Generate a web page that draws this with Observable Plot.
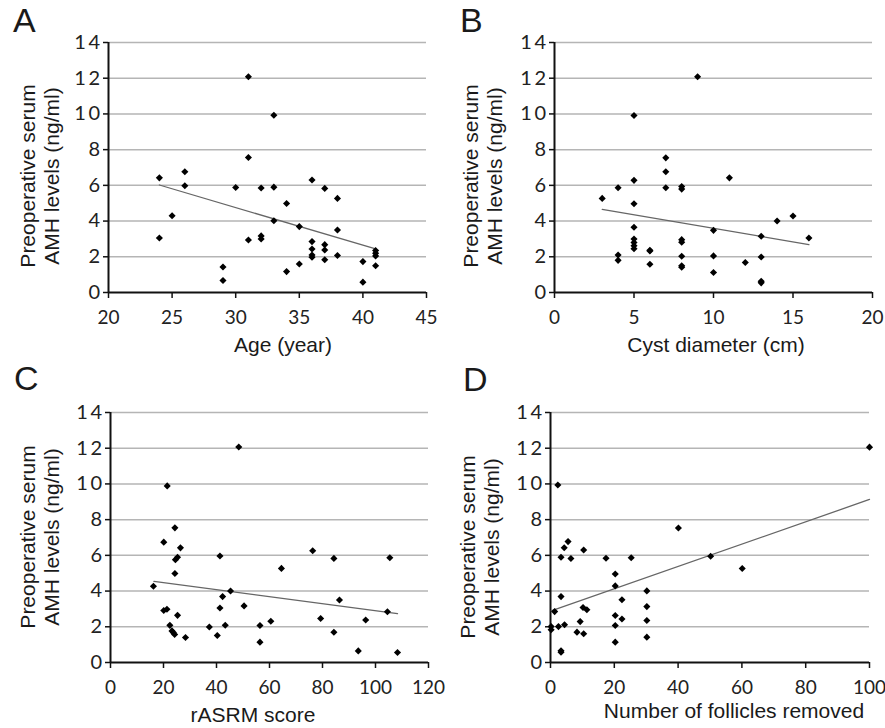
<!DOCTYPE html>
<html>
<head>
<meta charset="utf-8">
<script src="https://cdn.jsdelivr.net/npm/d3@7"></script>
<script src="https://cdn.jsdelivr.net/npm/@observablehq/plot@0.6"></script>
<style>
  html, body { margin: 0; padding: 0; background: #fff; }
  #root { position: relative; width: 885px; height: 728px; overflow: hidden; background: #fff; }
  .panel { position: absolute; }
  .lbl { position: absolute; font-family: "Liberation Sans", Arial, sans-serif; color: #1a1a1a; line-height: 1; white-space: nowrap; }
  .letter { font-size: 34px; }
  .xt { font-size: 21px; transform: translateX(-50%); }
  .yt { font-size: 21px; line-height: 24px; text-align: center; transform: translate(-50%, -50%) rotate(-90deg); }
</style>
</head>
<body>
<div id="root"></div>
<script>
// ---------- data ----------
const yTicks = [0, 2, 4, 6, 8, 10, 12, 14];

// Panel A: Age (year) vs AMH
const ageA = [24, 24, 25, 26, 26, 29, 29, 30, 31, 31, 31, 32, 32, 32, 33, 33, 33, 34, 34, 35, 35,
              36, 36, 36, 36, 36, 37, 37, 37, 37, 38, 38, 38, 40, 40, 41, 41, 41, 41];
const amhA = [6.42, 3.05, 4.3, 6.76, 5.98, 1.43, 0.67, 5.88, 12.08, 7.56, 2.94, 5.85, 3.17, 3.0, 9.93, 5.9, 4.02, 4.98, 1.17, 3.69, 1.6,
              6.3, 2.85, 2.44, 2.1, 1.98, 5.83, 2.68, 2.38, 1.83, 5.27, 3.5, 2.07, 1.73, 0.58, 2.35, 2.2, 2.05, 1.5];
const xTicksA = [20, 25, 30, 35, 40, 45];
const trendAx = [24, 41];
const trendAy = [6.02, 2.44];

// Panel B: Cyst diameter (cm) vs AMH
const cystB = [3, 4, 4, 4, 5, 5, 5, 5, 5, 5, 5, 5, 6, 6, 6, 7, 7, 7, 8, 8, 8, 8, 8, 8, 8,
               9, 10, 10, 10, 11, 12, 13, 13, 13, 13, 14, 15, 16];
const amhB = [5.27, 5.87, 2.1, 1.8, 9.91, 6.28, 4.97, 3.65, 3.0, 2.8, 2.62, 2.45, 2.36, 2.32, 1.58, 7.54, 6.76, 5.87, 5.94, 5.79, 2.96, 2.81, 2.03, 1.5, 1.42,
              12.08, 3.48, 2.05, 1.12, 6.42, 1.68, 3.15, 1.99, 0.63, 0.54, 4.0, 4.28, 3.05];
const xTicksB = [0, 5, 10, 15, 20];
const trendBx = [3, 16];
const trendBy = [4.66, 2.68];

// Panel C: rASRM score vs AMH
const asrmC = [16.2, 20.1, 21.4, 20.1, 21.3, 22.4, 23.2, 23.7, 24.2, 24.3, 24.5, 25.3, 24.3, 26.4, 25.3, 28.3, 37.3, 40.3, 41.3, 41.3,
               42.3, 43.3, 45.3, 48.4, 50.4, 56.4, 56.4, 60.5, 64.5, 76.3, 79.3, 84.3, 84.3, 86.4, 93.5, 96.3, 104.5, 105.4, 108.3];
const amhC = [4.27, 6.74, 9.89, 2.91, 2.98, 2.08, 1.77, 1.68, 1.57, 7.54, 5.76, 5.89, 4.98, 6.42, 2.64, 1.4, 1.99, 1.51, 5.96, 3.05,
              3.69, 2.09, 4.0, 12.07, 3.17, 2.07, 1.14, 2.31, 5.27, 6.26, 2.46, 5.83, 1.69, 3.5, 0.65, 2.38, 2.84, 5.87, 0.56];
const xTicksC = [0, 20, 40, 60, 80, 100, 120];
const trendCx = [16.4, 108.3];
const trendCy = [4.54, 2.74];

// Panel D: Number of follicles removed vs AMH
const follD = [0.2, 0.2, 1.3, 2.3, 2.5, 3.3, 3.3, 3.3, 3.3, 4.3, 4.4, 5.5, 6.4, 8.3, 9.3, 10.2, 10.4, 10.4, 11.4, 17.4,
               20.3, 20.3, 20.3, 20.3, 20.3, 22.4, 22.4, 25.3, 30.2, 30.2, 30.2, 30.2, 40.1, 50.2, 60.1, 100];
const amhD = [2.01, 1.83, 2.85, 9.94, 2.01, 5.89, 3.69, 0.66, 0.58, 6.43, 2.11, 6.77, 5.82, 1.70, 2.29, 3.08, 6.3, 1.61, 2.95, 5.84,
              4.96, 4.29, 2.63, 2.07, 1.14, 3.51, 2.44, 5.87, 4.01, 3.13, 2.35, 1.42, 7.53, 5.95, 5.26, 12.06];
const xTicksD = [0, 20, 40, 60, 80, 100];
const trendDx = [0.2, 100];
const trendDy = [2.89, 9.13];

const yTitle = "Preoperative serum\nAMH levels (ng/ml)";

// ---------- layout ----------
const panels = [
  {letter: "A", xs: ageA, ys: amhA, xTicks: xTicksA, tx: trendAx, ty: trendAy, xTitle: "Age (year)",
   left: 0, top: 0, width: 440, height: 330, mt: 42, mb: 38, ml: 108, mr: 14,
   letterPos: [13, 3], xTitlePos: [283, 334], yTitlePos: [40, 176]},
  {letter: "B", xs: cystB, ys: amhB, xTicks: xTicksB, tx: trendBx, ty: trendBy, xTitle: "Cyst diameter (cm)",
   left: 440, top: 0, width: 445, height: 330, mt: 42, mb: 38, ml: 114, mr: 13,
   letterPos: [460, 3], xTitlePos: [716, 334], yTitlePos: [483, 176]},
  {letter: "C", xs: asrmC, ys: amhC, xTicks: xTicksC, tx: trendCx, ty: trendCy, xTitle: "rASRM score",
   left: 0, top: 330, width: 440, height: 398, mt: 82, mb: 66, ml: 110, mr: 12,
   letterPos: [14, 361], xTitlePos: [253, 704], yTitlePos: [40, 537]},
  {letter: "D", xs: follD, ys: amhD, xTicks: xTicksD, tx: trendDx, ty: trendDy, xTitle: "Number of follicles removed",
   left: 440, top: 330, width: 445, height: 398, mt: 82, mb: 66, ml: 110, mr: 16,
   letterPos: [463, 362], xTitlePos: [734, 700], yTitlePos: [480, 547]}
];

const root = document.getElementById("root");

for (const p of panels) {
  const pts = p.xs.map((x, i) => ({x, y: p.ys[i]}));
  const trend = p.tx.map((x, i) => ({x, y: p.ty[i]}));
  const xDomain = [p.xTicks[0], p.xTicks[p.xTicks.length - 1]];
  const chart = Plot.plot({
    width: p.width,
    height: p.height,
    marginTop: p.mt,
    marginBottom: p.mb,
    marginLeft: p.ml,
    marginRight: p.mr,
    style: {fontFamily: "Lato, sans-serif", fontSize: "19px", color: "#222", background: "transparent", overflow: "visible"},
    x: {domain: xDomain},
    y: {domain: [0, 14]},
    marks: [
      Plot.gridY(yTicks.filter(v => v > 0), {stroke: "#b5b5b5", strokeOpacity: 1, strokeWidth: 1.5}),
      Plot.axisY(yTicks, {tickSize: 5, tickPadding: 1, label: null, fontSize: 20, stroke: "#111", strokeWidth: 1.5}),
      Plot.axisX(p.xTicks, {tickSize: 6, tickPadding: 12, label: null, stroke: "#111", strokeWidth: 1.5}),
      Plot.ruleY([0], {stroke: "#111", strokeWidth: 2}),
      Plot.ruleX([xDomain[0]], {stroke: "#111", strokeWidth: 2}),
      Plot.line(trend, {x: "x", y: "y", stroke: "#666", strokeWidth: 1.3}),
      Plot.dot(pts, {x: "x", y: "y", symbol: "diamond2", r: 3.2, fill: "#000", stroke: "none"})
    ]
  });
  d3.select(chart).selectAll('g[aria-label="y-axis tick label"]').style("letter-spacing", "2.5px");
  const wrap = document.createElement("div");
  wrap.className = "panel";
  wrap.style.left = p.left + "px";
  wrap.style.top = p.top + "px";
  wrap.appendChild(chart);
  root.appendChild(wrap);

  const L = document.createElement("div");
  L.className = "lbl letter";
  L.textContent = p.letter;
  L.style.left = p.letterPos[0] + "px";
  L.style.top = p.letterPos[1] + "px";
  root.appendChild(L);

  const xt = document.createElement("div");
  xt.className = "lbl xt";
  xt.textContent = p.xTitle;
  xt.style.left = p.xTitlePos[0] + "px";
  xt.style.top = p.xTitlePos[1] + "px";
  root.appendChild(xt);

  const yt = document.createElement("div");
  yt.className = "lbl yt";
  yt.style.whiteSpace = "pre";
  yt.textContent = yTitle;
  yt.style.left = p.yTitlePos[0] + "px";
  yt.style.top = p.yTitlePos[1] + "px";
  root.appendChild(yt);
}
</script>
</body>
</html>
